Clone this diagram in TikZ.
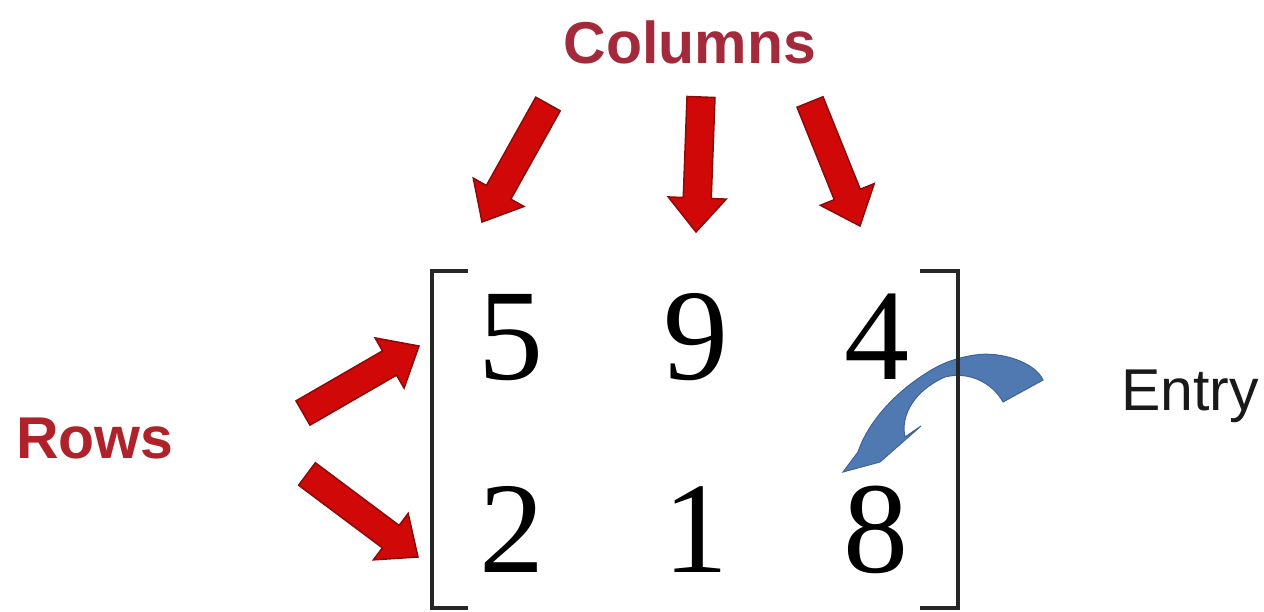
\documentclass[tikz,border=0pt]{standalone}
\usepackage{fontspec}
\setmainfont{Liberation Serif}
\newfontfamily\labelsans{Liberation Sans}
\usetikzlibrary{calc}
\definecolor{arrowred}{HTML}{D00808}
\definecolor{arrowedge}{HTML}{8C0A0A}
\definecolor{colred}{HTML}{A32A3A}
\definecolor{rowred}{HTML}{B0222A}
\definecolor{entryblue}{HTML}{5079B2}
\definecolor{entryedge}{HTML}{3E6398}
\tikzset{
  blockred/.style={fill=arrowred, draw=arrowedge, line width=1.5pt, line join=miter},
  bluearrow/.style={fill=entryblue, draw=entryedge, line width=1pt},
  bracket/.style={line width=4.5pt, draw=black!85},
  entry/.style={anchor=base, inner sep=0pt, font=\fontsize{130}{130}\selectfont},
  rclabel/.style={inner sep=0pt, font=\labelsans\bfseries\fontsize{59}{59}\selectfont},
}
\newcommand\blockarrow[2]{%
  \coordinate (ba-n) at ($(#2)!34pt!(#1)$);
  \filldraw[blockred] ($(#1)!14pt!90:(#2)$) -- ($(ba-n)!14pt!-90:(#1)$) -- ($(ba-n)!29pt!-90:(#1)$) -- (#2) -- ($(ba-n)!29pt!90:(#1)$) -- ($(ba-n)!14pt!90:(#1)$) -- ($(#1)!14pt!-90:(#2)$) -- cycle;}
\begin{document}
\begin{tikzpicture}[x=1pt,y=-1pt]
\useasboundingbox (0,0) rectangle (1264,612);
% labels
\node[rclabel, text=colred] (columns) at (690,42) {Columns};
\node[rclabel, text=rowred] (rows) at (95,438) {Rows};
\node[anchor=base west, inner sep=0pt, text=black!90, font=\labelsans\fontsize{59}{59}\selectfont] (entrylab) at (1121,410) {Entry};
% matrix entries
\node[entry] (m11) at (511,380) {5};
\node[entry] (m12) at (696,380) {9};
\node[entry] (m13) at (877,380) {4};
\node[entry] (m21) at (512,572) {2};
\node[entry] (m22) at (696,572) {1};
\node[entry] (m23) at (876,572) {8};
% column arrows
\coordinate (c1t) at (548,104);
\coordinate (c1h) at (482,222);
\coordinate (c2t) at (701,97);
\coordinate (c2h) at (696,232);
\coordinate (c3t) at (810,102);
\coordinate (c3h) at (860,226);
\blockarrow{c1t}{c1h}
\blockarrow{c2t}{c2h}
\blockarrow{c3t}{c3h}
% row arrows
\coordinate (r1t) at (303,413);
\coordinate (r1h) at (419,346);
\coordinate (r2t) at (307,474);
\coordinate (r2h) at (418,557);
\blockarrow{r1t}{r1h}
\blockarrow{r2t}{r2h}
% blue curved entry arrow
\filldraw[bluearrow] (1043,380)
  .. controls (1035,362) and (1000,351) .. (975,355)
  .. controls (955,358) and (940,364) .. (925,374)
  .. controls (895,393) and (868,422) .. (858,452)
  -- (843,472) -- (880,462) -- (921,426) -- (905,437)
  .. controls (900,415) and (915,390) .. (945,377)
  .. controls (968,371) and (992,382) .. (1003,402) -- cycle;
% brackets
\draw[bracket] (468,271) -- (432,271) -- (432,608) -- (468,608);
\draw[bracket] (920,271) -- (958,271) -- (958,608) -- (920,608);
\end{tikzpicture}
\end{document}
